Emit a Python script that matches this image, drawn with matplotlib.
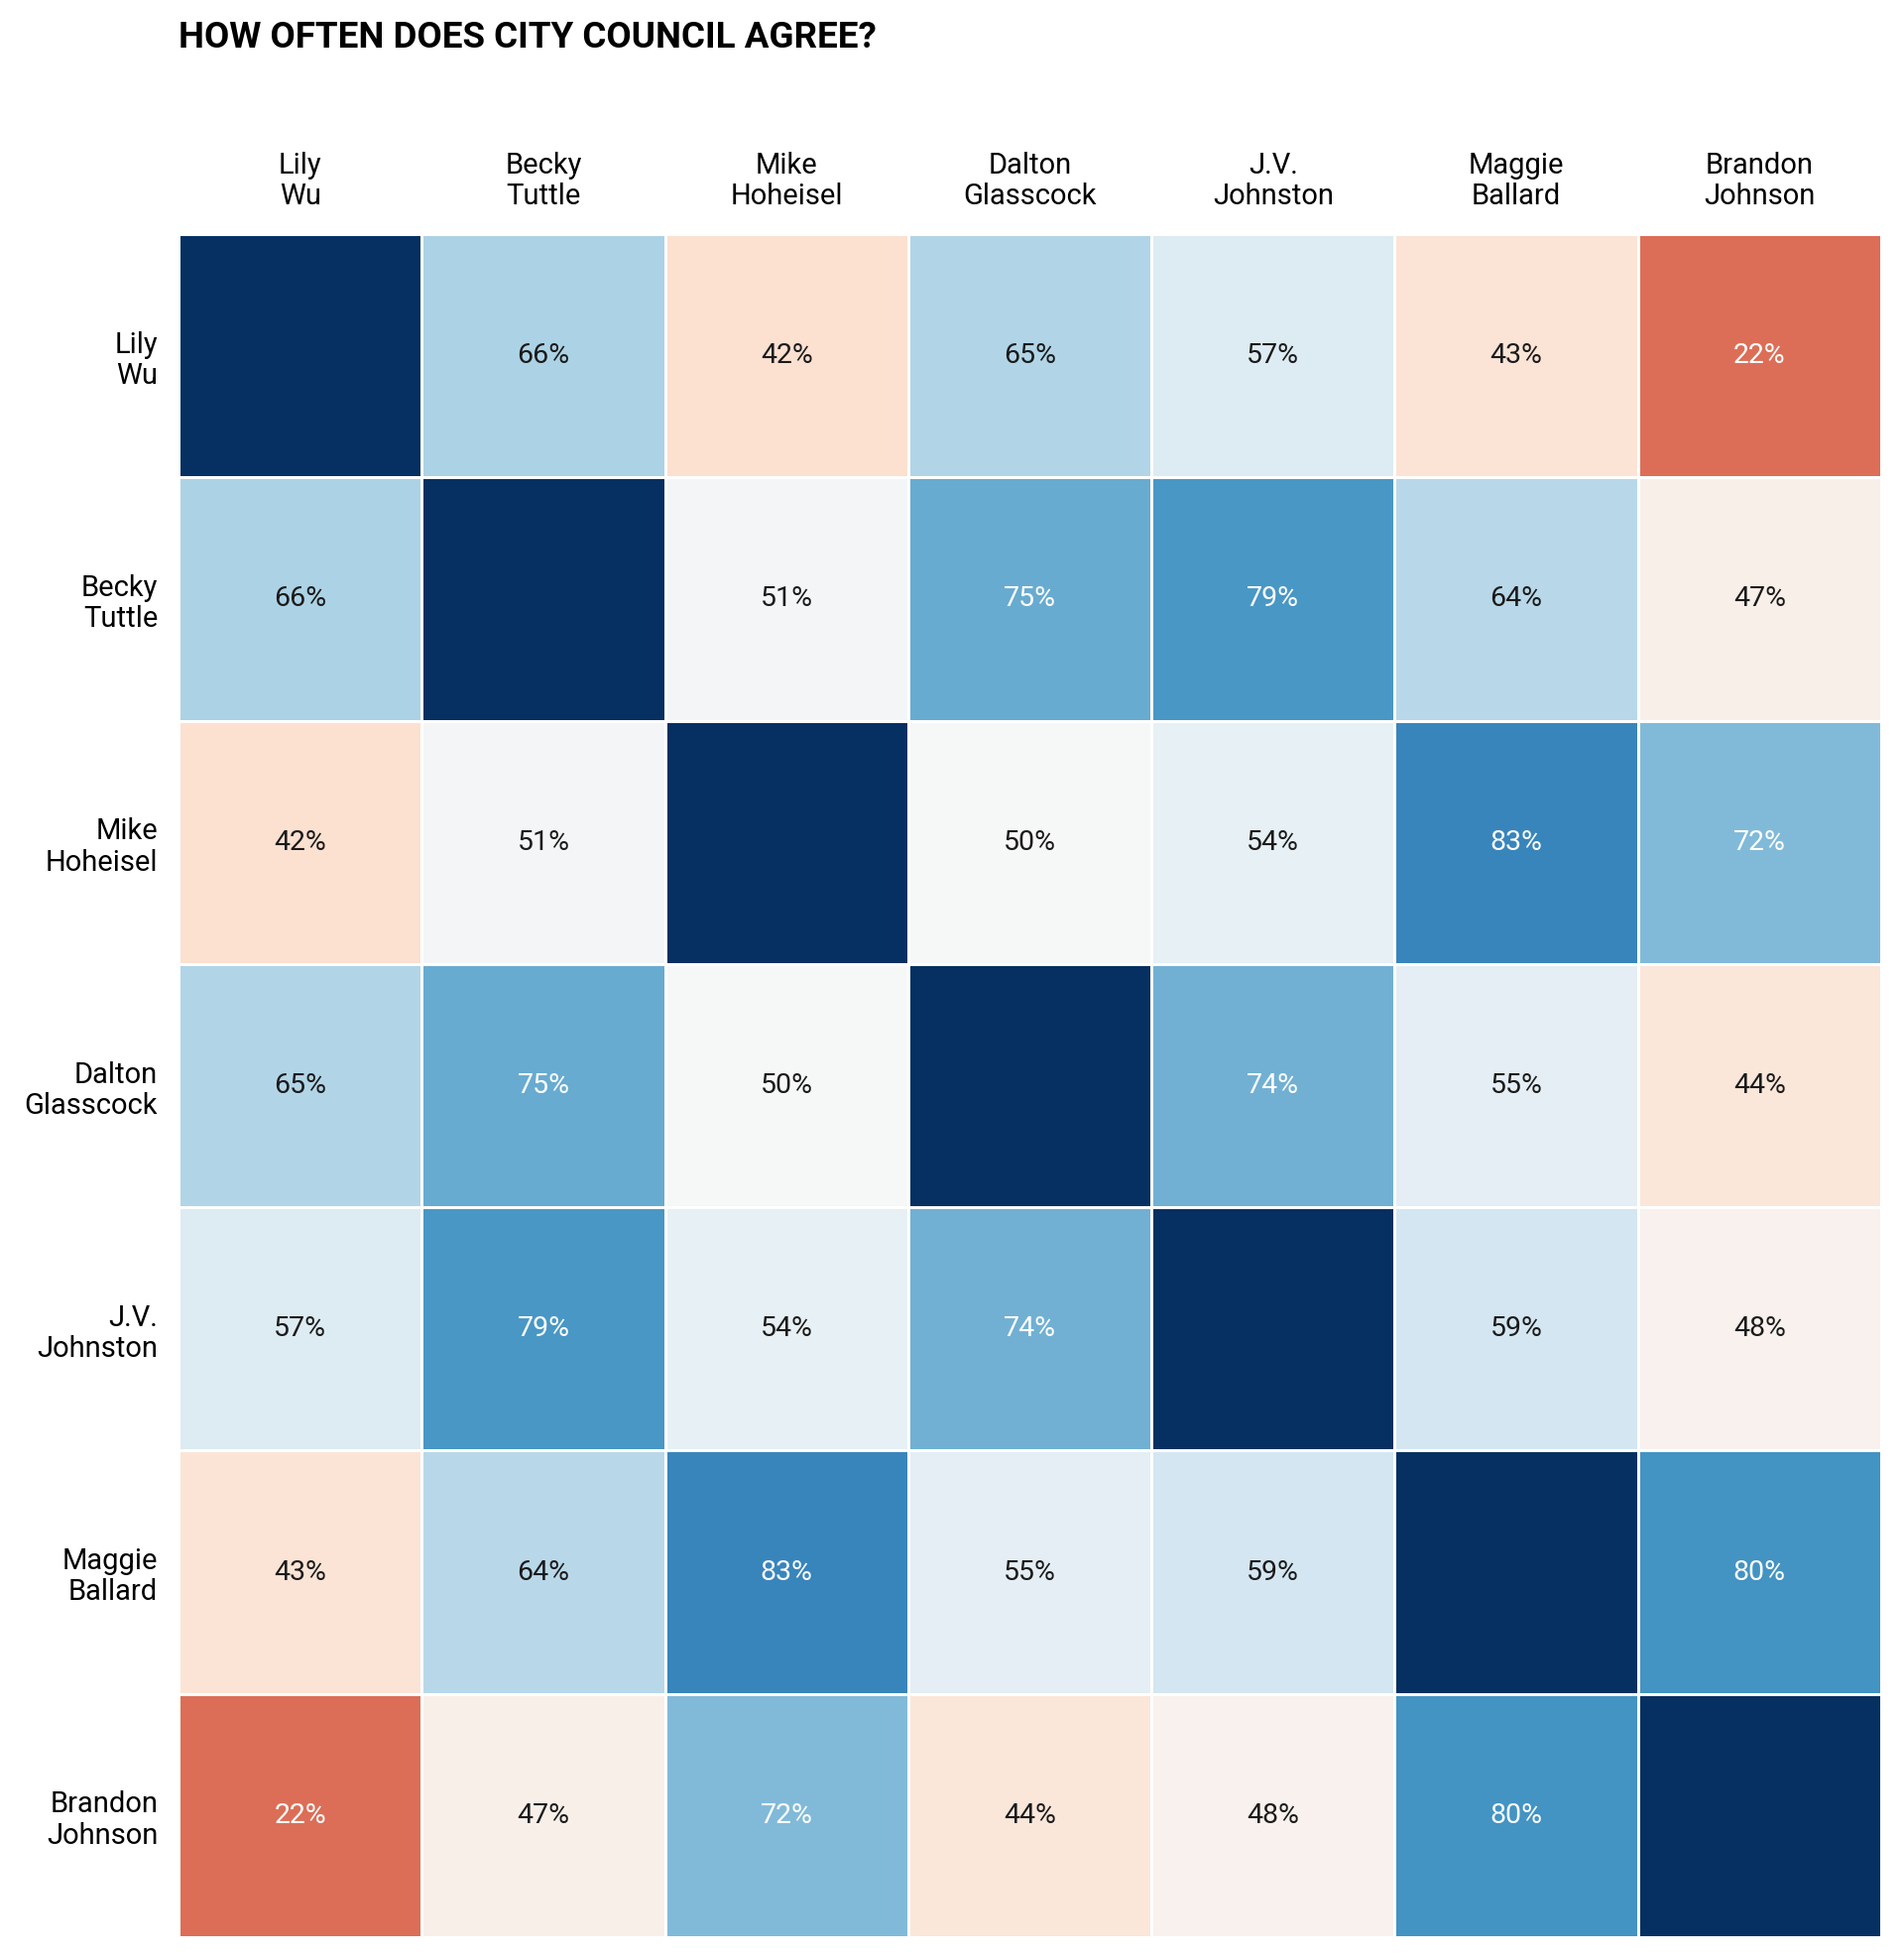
import numpy as np
import matplotlib
matplotlib.use("Agg")
import matplotlib.pyplot as plt

names = ["Lily\nWu", "Becky\nTuttle", "Mike\nHoheisel", "Dalton\nGlasscock",
         "J.V.\nJohnston", "Maggie\nBallard", "Brandon\nJohnson"]

lily_wu = [100, 66, 42, 65, 57, 43, 22]
becky_tuttle = [66, 100, 51, 75, 79, 64, 47]
mike_hoheisel = [42, 51, 100, 50, 54, 83, 72]
dalton_glasscock = [65, 75, 50, 100, 74, 55, 44]
jv_johnston = [57, 79, 54, 74, 100, 59, 48]
maggie_ballard = [43, 64, 83, 55, 59, 100, 80]
brandon_johnson = [22, 47, 72, 44, 48, 80, 100]

rows = [lily_wu, becky_tuttle, mike_hoheisel, dalton_glasscock,
        jv_johnston, maggie_ballard, brandon_johnson]
data = np.array(rows, dtype=float) / 100.0

plt.rcParams['font.family'] = ['Roboto', 'DejaVu Sans']

fig = plt.figure(figsize=(19.2, 19.76), dpi=100)
ax = fig.add_axes([180/1920, 1 - 1953/1976, 1717/1920, 1717/1976])

n = len(names)
ax.pcolormesh(data, cmap="RdBu", vmin=0, vmax=1, edgecolors="white", linewidth=1.8)
ax.set_xlim(0, n)
ax.set_ylim(n, 0)

for i in range(n):
    for j in range(n):
        if i == j:
            continue
        v = data[i, j]
        color = "white" if (v > 0.7 or v < 0.3) else "#1a1a1a"
        ax.text(j + 0.5, i + 0.5, f"{int(round(v*100))}%", ha="center", va="center",
                fontsize=20.5, color=color)

ax.set_xticks(np.arange(n) + 0.5)
ax.set_yticks(np.arange(n) + 0.5)
ax.set_xticklabels(names, fontsize=21, linespacing=1.15)
ax.set_yticklabels(names, fontsize=21, linespacing=1.15)
ax.xaxis.tick_top()
ax.tick_params(axis="x", length=0, pad=17)
ax.tick_params(axis="y", length=0, pad=15)
for s in ax.spines.values():
    s.set_visible(False)

fig.text(180/1920, 1 - 38/1976, "HOW OFTEN DOES CITY COUNCIL AGREE?", fontsize=26.5,
         fontweight="bold", ha="left", va="center")

fig.savefig("out.png", dpi=100)
